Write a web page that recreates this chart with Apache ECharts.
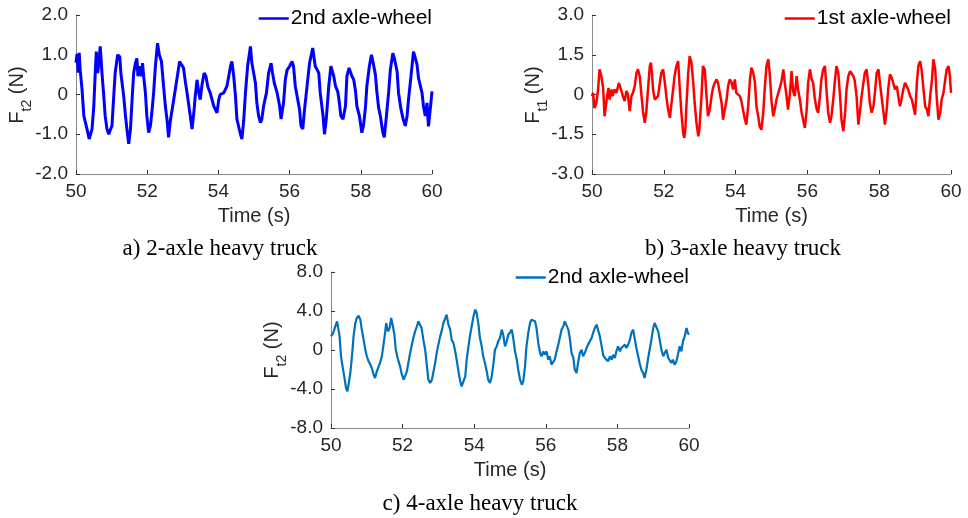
<!DOCTYPE html>
<html>
<head>
<meta charset="utf-8">
<script src="https://cdn.jsdelivr.net/npm/echarts/dist/echarts.min.js"></script>
<style>html,body{margin:0;padding:0;background:#fff;}#c{width:968px;height:518px;}</style>
</head>
<body>
<div id="c"></div>
<script>
// ---------- data ----------
const xTicks = [50, 52, 54, 56, 58, 60];
const yTicksA = [-2, -1, 0, 1, 2];
const yTicksB = [-3, -1.5, 0, 1.5, 3];
const yTicksC = [-8, -4, 0, 4, 8];

const nameA = '2nd axle-wheel';
const nameB = '1st axle-wheel';
const nameC = '2nd axle-wheel';

const subA = 't2';
const subB = 't1';
const subC = 't2';

const captionA = 'a) 2-axle heavy truck';
const captionB = 'b) 3-axle heavy truck';
const captionC = 'c) 4-axle heavy truck';

const timeA = [50.00,50.03,50.06,50.09,50.12,50.17,50.22,50.31,50.37,50.45,50.50,50.54,50.57,50.61,50.64,50.68,50.73,50.78,50.82,50.87,50.92,50.96,51.01,51.06,51.10,51.17,51.23,51.26,51.34,51.39,51.43,51.48,51.53,51.57,51.62,51.67,51.71,51.74,51.79,51.84,51.87,51.90,51.95,51.99,52.04,52.09,52.13,52.18,52.23,52.29,52.34,52.40,52.46,52.51,52.56,52.60,52.65,52.74,52.84,52.91,52.96,53.02,53.07,53.12,53.21,53.26,53.31,53.35,53.40,53.45,53.49,53.54,53.60,53.65,53.70,53.77,53.87,53.96,54.01,54.05,54.15,54.24,54.34,54.38,54.43,54.48,54.52,54.62,54.66,54.71,54.76,54.82,54.90,54.94,55.04,55.08,55.13,55.18,55.22,55.27,55.35,55.41,55.48,55.52,55.57,55.65,55.72,55.76,55.83,55.88,55.93,56.00,56.07,56.11,56.16,56.21,56.28,56.32,56.37,56.41,56.49,56.56,56.65,56.72,56.82,56.86,56.94,56.98,57.03,57.10,57.16,57.24,57.29,57.35,57.38,57.44,57.50,57.57,57.61,57.67,57.71,57.75,57.80,57.85,57.89,57.96,58.03,58.08,58.13,58.17,58.24,58.30,58.34,58.41,58.45,58.50,58.55,58.62,58.66,58.72,58.78,58.83,58.90,58.94,59.02,59.06,59.13,59.19,59.25,59.30,59.34,59.41,59.48,59.53,59.58,59.62,59.72,59.76,59.81,59.86,59.90,59.95,60.00];
const forceA = [0.80,1.02,0.55,1.05,0.60,0.12,-0.54,-0.87,-1.12,-0.87,-0.29,0.54,1.08,0.54,0.80,1.21,0.54,-0.04,-0.54,-0.87,-1.00,-0.90,-0.79,-0.04,0.54,1.00,0.95,0.54,-0.04,-0.54,-0.87,-1.24,-0.87,-0.21,0.54,0.79,0.91,0.46,0.71,0.46,0.79,0.46,0.04,-0.54,-0.96,-0.79,-0.46,0.04,0.71,1.29,1.00,0.83,0.21,-0.29,-0.66,-1.08,-0.66,-0.16,0.42,0.83,0.88,0.67,0.33,0.04,-0.54,-0.87,-0.46,-0.04,0.37,0.04,-0.13,0.25,0.54,0.46,0.21,0.04,-0.29,-0.46,-0.13,0.00,0.04,0.21,0.71,0.83,0.46,-0.04,-0.62,-1.00,-1.12,-0.66,0.04,0.71,1.21,0.79,0.29,-0.21,-0.54,-0.71,-0.62,-0.29,0.04,0.54,0.79,0.54,0.29,0.04,-0.29,-0.62,-0.21,0.38,0.62,0.71,0.83,0.71,0.21,-0.04,-0.38,-0.79,-0.87,-0.46,0.21,0.79,1.17,0.71,0.54,0.04,-0.54,-1.00,-0.62,0.21,0.71,0.46,0.21,0.08,-0.08,-0.54,-0.62,-0.29,0.46,0.67,0.62,0.46,0.38,0.10,-0.29,-0.54,-0.96,-0.75,-0.33,0.21,0.71,1.00,0.83,0.50,0.08,-0.33,-0.54,-0.96,-1.08,-0.54,0.04,0.62,1.04,0.92,0.58,0.04,-0.38,-0.62,-0.79,-0.54,-0.13,0.46,1.08,0.92,0.75,0.42,0.04,-0.29,-0.54,-0.21,-0.80,-0.38,0.08];

const timeB = [50.00,50.03,50.07,50.12,50.17,50.21,50.26,50.31,50.35,50.38,50.42,50.46,50.49,50.54,50.57,50.63,50.68,50.75,50.79,50.82,50.86,50.91,50.96,51.00,51.05,51.10,51.14,51.19,51.24,51.28,51.33,51.38,51.42,51.47,51.51,51.56,51.61,51.64,51.67,51.70,51.75,51.79,51.84,51.89,51.93,51.98,52.03,52.07,52.12,52.17,52.21,52.26,52.30,52.35,52.40,52.44,52.49,52.54,52.57,52.60,52.63,52.68,52.72,52.77,52.82,52.86,52.91,52.96,52.99,53.05,53.09,53.14,53.19,53.23,53.28,53.33,53.37,53.42,53.47,53.51,53.56,53.61,53.65,53.70,53.75,53.79,53.84,53.89,53.93,53.98,54.02,54.07,54.12,54.16,54.21,54.26,54.30,54.35,54.40,54.44,54.49,54.54,54.58,54.63,54.67,54.72,54.77,54.81,54.86,54.91,54.95,
  55.00,55.05,55.09,55.14,55.19,55.23,55.28,55.33,55.37,55.42,55.46,55.51,55.56,55.60,55.65,55.70,55.74,55.79,55.84,55.88,55.93,55.98,56.02,56.07,56.12,56.16,56.21,56.26,56.30,56.35,56.39,56.44,56.49,56.53,56.58,56.63,56.67,56.72,56.77,56.81,56.86,56.91,56.95,57.00,57.05,57.09,57.14,57.19,57.23,57.28,57.32,57.37,57.42,57.46,57.51,57.56,57.60,57.65,57.70,57.74,57.79,57.84,57.88,57.93,57.98,58.02,58.11,58.16,58.21,58.25,58.30,58.35,58.39,58.44,58.49,58.53,58.58,58.62,58.67,58.72,58.76,58.81,58.86,58.91,58.95,59.00,59.05,59.09,59.14,59.18,59.23,59.28,59.33,59.37,59.42,59.47,59.51,59.56,59.60,59.65,59.70,59.74,59.79,59.84,59.88,59.93,59.97,60.00];
const forceB = [-0.06,0.06,-0.51,-0.32,0.19,0.95,0.69,0.25,-0.82,-0.88,-0.06,0.25,-0.19,0.19,-0.06,0.19,0.06,0.44,0.51,0.13,-0.06,-0.25,0.13,0.00,-0.63,-0.06,0.06,0.32,0.82,0.95,0.69,-0.06,-0.63,-1.07,-0.69,0.19,1.07,1.20,0.82,0.19,-0.19,-0.25,-0.06,0.44,0.82,0.95,0.44,-0.06,-0.57,-0.88,-0.38,0.19,0.69,1.07,1.26,0.32,-0.69,-1.45,-1.64,-1.33,-0.44,0.82,1.45,1.20,0.44,-0.32,-1.07,-1.58,-1.33,-0.06,1.07,0.95,-0.06,-0.82,-0.57,-0.06,0.25,0.44,0.57,0.44,0.06,-0.32,-0.95,-0.57,-0.19,0.32,0.57,0.44,0.19,0.57,0.06,0.06,-0.06,-0.25,-0.32,-0.95,-1.14,-0.44,0.57,1.01,0.82,0.44,-0.44,-0.82,-1.20,-1.33,-0.69,0.19,1.07,1.33,0.82,
  -0.25,-0.82,-0.57,-0.19,0.06,0.25,0.51,0.95,0.44,-0.06,-0.57,0.00,0.88,0.13,-0.06,0.69,0.19,-0.19,-0.69,-0.95,-1.26,-0.57,0.44,0.95,0.57,0.44,-0.19,-0.57,-0.69,-0.06,0.57,0.95,1.07,0.19,-0.69,-1.07,-0.82,-0.19,0.57,1.07,0.82,-0.06,-0.95,-1.39,-0.69,0.19,0.69,0.88,0.82,0.69,0.51,-0.06,-1.14,-0.69,-0.06,0.44,0.82,0.95,0.32,-0.32,-0.69,-0.44,0.06,0.82,0.95,0.44,-0.57,-1.14,-0.57,0.19,0.76,0.63,0.44,0.19,0.32,-0.06,-0.44,-0.19,0.19,0.44,0.44,0.19,-0.06,-0.19,-0.25,-0.76,0.44,1.07,1.26,0.95,0.25,-0.44,-0.57,-0.82,-0.06,0.57,1.33,0.95,-0.06,-0.95,-0.69,-0.19,0.06,0.57,0.95,1.07,0.69,0.06];

const timeC = [50.00,50.06,50.12,50.17,50.21,50.24,50.28,50.33,50.37,50.42,50.46,50.51,50.54,50.59,50.63,50.68,50.72,50.77,50.82,50.86,50.91,50.96,51.00,51.05,51.10,51.14,51.19,51.23,51.28,51.32,51.37,51.42,51.46,51.51,51.54,51.59,51.64,51.68,51.73,51.77,51.81,51.86,51.93,51.98,52.03,52.07,52.12,52.16,52.21,52.26,52.30,52.35,52.40,52.44,52.49,52.53,52.58,52.63,52.68,52.72,52.77,52.82,52.86,52.91,52.96,53.00,53.05,53.10,53.14,53.23,53.28,53.33,53.37,53.42,53.46,53.51,53.56,53.61,53.65,53.70,53.75,53.79,53.84,53.88,53.93,53.98,54.03,54.07,54.12,54.16,54.21,54.25,54.30,54.35,54.39,54.44,54.49,54.54,54.58,54.63,54.67,54.72,54.77,54.81,54.86,54.91,54.95,
  55.00,55.05,55.09,55.14,55.19,55.23,55.28,55.33,55.37,55.42,55.46,55.51,55.56,55.60,55.65,55.70,55.74,55.79,55.84,55.88,55.93,55.97,56.02,56.07,56.11,56.16,56.21,56.25,56.30,56.35,56.39,56.44,56.49,56.53,56.58,56.63,56.67,56.72,56.77,56.81,56.86,56.90,56.95,57.00,57.04,57.09,57.14,57.18,57.23,57.28,57.32,57.37,57.42,57.46,57.51,57.56,57.60,57.65,57.70,57.74,57.79,57.84,57.88,57.93,57.97,58.02,58.07,58.11,58.16,58.21,58.25,58.30,58.35,58.39,58.44,58.48,58.53,58.58,58.62,58.67,58.72,58.76,58.81,58.86,58.90,58.95,59.00,59.04,59.09,59.14,59.18,59.23,59.28,59.32,59.37,59.42,59.46,59.51,59.55,59.60,59.65,59.69,59.74,59.79,59.83,59.88,59.93,59.97,60.00];
const forceC = [1.40,1.74,2.43,2.94,2.77,1.40,-0.65,-1.85,-2.70,-3.90,-4.24,-4.07,-2.36,-0.48,1.40,2.77,3.28,3.52,3.11,2.09,1.06,0.03,-0.65,-1.16,-1.50,-1.85,-2.53,-2.87,-2.19,-2.02,-1.33,-0.65,0.38,1.74,2.77,1.91,2.26,3.28,2.43,1.57,0.03,-0.82,-1.68,-2.53,-3.04,-2.87,-2.19,-1.33,-0.31,0.55,1.23,1.91,2.43,2.94,2.94,2.26,1.06,0.03,-1.68,-3.04,-3.38,-3.04,-2.87,-1.33,-0.14,0.55,1.40,2.09,2.77,3.62,2.60,2.09,1.06,0.72,0.03,-0.99,-2.19,-3.21,-3.73,-3.90,-2.70,-0.99,0.38,1.40,2.43,3.45,4.14,3.79,2.60,1.23,0.38,-0.65,-1.33,-2.19,-3.04,-3.38,-2.70,-1.33,0.03,0.38,0.89,1.23,2.09,1.57,0.38,0.89,1.57,
  1.80,2.09,1.23,-0.14,-0.99,-2.02,-3.04,-3.56,-3.21,-1.68,0.38,1.74,2.77,3.11,3.28,2.94,2.26,0.72,-0.31,-0.65,-0.14,-0.48,-0.14,-0.99,-0.65,-1.50,-1.68,-0.99,-0.14,0.55,1.23,2.09,2.43,2.94,2.77,2.09,1.23,-0.31,-0.82,-2.02,-2.36,-1.33,-0.31,0.03,-0.65,-0.31,0.21,0.55,0.72,1.23,1.74,2.26,2.60,2.43,1.40,0.38,-0.48,-0.82,-0.99,-1.16,-0.65,-0.99,-0.48,-0.82,-0.14,0.38,-0.14,0.21,0.03,0.55,0.21,0.55,1.06,1.74,2.09,1.23,0.21,-0.65,-1.33,-2.02,-2.36,-2.87,-2.02,-0.82,0.03,1.06,2.26,2.77,2.60,1.91,1.06,0.03,-0.65,-0.31,0.03,-0.82,-0.65,-1.33,-0.99,-1.50,-1.16,-0.48,0.38,-0.14,0.89,1.40,2.26,1.74,1.57];

// ---------- chart ----------
const SANS = '"Liberation Sans", Arial, sans-serif';
const SERIF = '"Liberation Serif", "Times New Roman", serif';
const TXT = '#262626';

const pair = (t, v) => t.map((x, i) => [x, v[i]]);
const fmtY = v => (v === 0 ? '0' : v.toFixed(1));

const grids = [
  { left: 76, top: 15, width: 356, height: 159 },
  { left: 592, top: 15, width: 359, height: 159 },
  { left: 331, top: 272, width: 358, height: 156 }
];

function xAxisFor(i) {
  return {
    type: 'value', gridIndex: i,
    min: xTicks[0], max: xTicks[xTicks.length - 1], interval: xTicks[1] - xTicks[0],
    name: 'Time (s)', nameLocation: 'middle', nameGap: 32,
    nameTextStyle: { fontFamily: SANS, fontSize: 20, color: TXT },
    axisLine: { show: true, onZero: false, lineStyle: { color: '#8a8a8a', width: 1 } },
    axisTick: { show: true, inside: true, length: 4, lineStyle: { color: '#333', width: 1 } },
    axisLabel: { fontFamily: SANS, fontSize: 19, color: TXT, margin: 8, showMinLabel: true, showMaxLabel: true },
    splitLine: { show: false }
  };
}
function yAxisFor(i, ticks) {
  return {
    type: 'value', gridIndex: i,
    min: ticks[0], max: ticks[ticks.length - 1], interval: ticks[1] - ticks[0],
    axisLine: { show: true, onZero: false, lineStyle: { color: '#8a8a8a', width: 1 } },
    axisTick: { show: true, inside: true, length: 4, lineStyle: { color: '#333', width: 1 } },
    axisLabel: { fontFamily: SANS, fontSize: 19, color: TXT, margin: 8, formatter: fmtY, showMinLabel: true, showMaxLabel: true },
    splitLine: { show: false }
  };
}
function legendFor(seriesName, right, top) {
  return {
    data: [seriesName], right: right, top: top, padding: 0,
    icon: 'rect', itemWidth: 30, itemHeight: 2.5, itemGap: 5,
    formatter: n => n.replace(/ #\d$/, ''),
    textStyle: { fontFamily: SANS, fontSize: 21, color: '#000', padding: [0, 0, 0, -3] },
    selectedMode: false
  };
}
// rotated y-axis title "F_sub (N)" with a lowered subscript
function yTitle(cx, cy, sub) {
  const wF = 12.2, wS = 11.7, wN = 33.4;
  const W = wF + wS + wN;
  const x0 = -W / 2;
  return {
    type: 'group', x: cx, y: cy, rotation: Math.PI / 2,
    children: [
      { type: 'text', x: x0, y: 0, style: { text: 'F', fontFamily: SANS, fontSize: 20, fill: TXT, align: 'left', verticalAlign: 'middle' } },
      { type: 'text', x: x0 + wF, y: 10, style: { text: sub, fontFamily: SANS, fontSize: 14, fill: TXT, align: 'left', verticalAlign: 'middle' } },
      { type: 'text', x: x0 + wF + wS, y: 0, style: { text: ' (N)', fontFamily: SANS, fontSize: 20, fill: TXT, align: 'left', verticalAlign: 'middle' } }
    ]
  };
}
function caption(x, y, text) {
  return { type: 'text', x: x, y: y, style: { text: text, fontFamily: SERIF, fontSize: 23, fill: '#000', align: 'center', verticalAlign: 'middle' } };
}

const chart = echarts.init(document.getElementById('c'), null, { renderer: 'canvas' });
chart.setOption({
  animation: false,
  backgroundColor: '#fff',
  grid: grids,
  xAxis: [xAxisFor(0), xAxisFor(1), xAxisFor(2)],
  yAxis: [yAxisFor(0, yTicksA), yAxisFor(1, yTicksB), yAxisFor(2, yTicksC)],
  legend: [
    legendFor(nameA + ' #1', 536, 8),
    legendFor(nameB + ' #2', 17, 8),
    legendFor(nameC + ' #3', 279, 267)
  ],
  series: [
    { name: nameA + ' #1', type: 'line', xAxisIndex: 0, yAxisIndex: 0, data: pair(timeA, forceA),
      symbol: 'none', lineStyle: { color: '#0000ff', width: 3 }, itemStyle: { color: '#0000ff' } },
    { name: nameB + ' #2', type: 'line', xAxisIndex: 1, yAxisIndex: 1, data: pair(timeB, forceB),
      symbol: 'none', lineStyle: { color: '#ff0000', width: 2.5 }, itemStyle: { color: '#ff0000' } },
    { name: nameC + ' #3', type: 'line', xAxisIndex: 2, yAxisIndex: 2, data: pair(timeC, forceC),
      symbol: 'none', lineStyle: { color: '#0072bd', width: 2.2 }, itemStyle: { color: '#0072bd' } }
  ],
  graphic: [
    yTitle(17, 95, subA),
    yTitle(533, 95, subB),
    yTitle(272, 350, subC),
    caption(220, 249, captionA),
    caption(743, 249, captionB),
    caption(480, 504, captionC)
  ]
});
</script>
</body>
</html>
